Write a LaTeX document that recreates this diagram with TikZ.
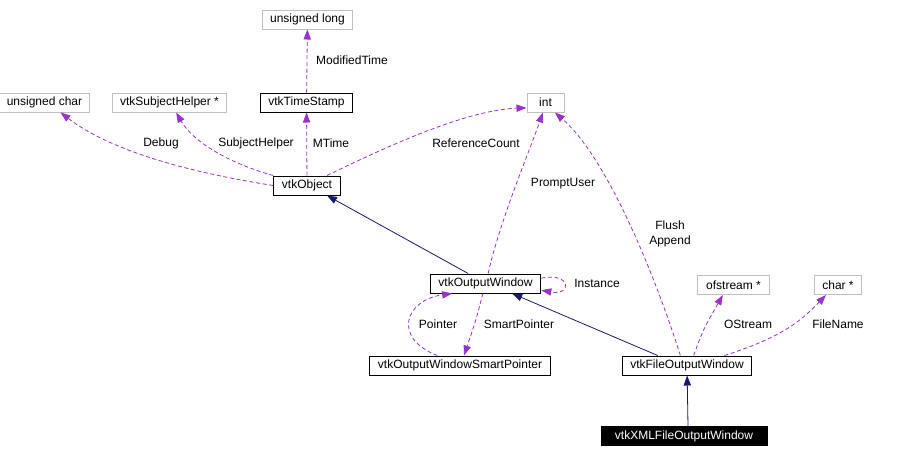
\documentclass[tikz,border=0pt]{standalone}
\usepackage{fontspec}
\setmainfont{Liberation Sans}
\definecolor{usepurple}{RGB}{153,50,204}
\definecolor{inhnavy}{RGB}{25,25,112}
\definecolor{boxgray}{RGB}{191,191,191}
\usetikzlibrary{arrows.meta, positioning}

\begin{document}
\begin{tikzpicture}[
    x=0.75pt, y=-0.75pt,
    font=\fontsize{9}{10}\selectfont,
    cls/.style={draw=black, fill=white, line width=0.75pt, inner xsep=6.2pt,
        inner ysep=0pt, minimum height=14.25pt},
    typ/.style={cls, draw=boxgray, inner xsep=5.5pt},
    sel/.style={cls, fill=black, text=white},
    inh/.style={-{Triangle[length=7.5pt,width=5.5pt]}, inhnavy, line width=0.6pt},
    use/.style={-{Triangle[length=7.5pt,width=5.5pt]}, usepurple, line width=0.6pt,
        dash pattern=on 3pt off 2pt},
    lbl/.style={inner sep=0pt}
  ]
  \useasboundingbox (0,0) rectangle (904,458);

  % nodes
  \node[typ] (ulong) at (307.5,19.5) {unsigned long};
  \node[typ] (uchar) at (44.5,102.5) {unsigned char};
  \node[typ] (helper) at (169.5,102.5) {vtkSubjectHelper *};
  \node[cls] (tstamp) at (306.5,102.5) {vtkTimeStamp};
  \node[typ, minimum width=27.75pt] (int) at (545.5,102.5) {int};
  \node[cls, minimum width=48pt] (obj) at (307,185.5) {vtkObject};
  \node[cls] (outwin) at (485.5,283.5) {vtkOutputWindow};
  \node[typ, inner xsep=6.5pt] (ofs) at (733.5,285) {ofstream *};
  \node[typ] (charp) at (838,285) {char *};
  \node[cls] (smartptr) at (460,365.5) {vtkOutputWindowSmartPointer};
  \node[cls] (fileout) at (687,365.5) {vtkFileOutputWindow};
  \node[sel, minimum width=124.5pt] (xmlout) at (684,436) {vtkXMLFileOutputWindow};

  % usage edges
  \draw[use] (tstamp) -- (ulong);
  \draw[use] (obj) -- (tstamp);
  \draw[use] (obj.west) .. controls (200,174) and (115,154) .. ([xshift=12pt]uchar.south);
  \draw[use] (obj.north west) .. controls (225,162) and (192,140) .. ([xshift=5pt]helper.south);
  \draw[use] ([xshift=15pt]obj.north) .. controls (400,140) and (470,110) .. ([yshift=-4pt]int.west);
  \draw[use] ([xshift=2pt]outwin.north) .. controls (500,220) and (530,150) .. ([xshift=-2pt]int.south);
  \draw[use] ([xshift=-5pt]fileout.north) .. controls (660,290) and (610,160) .. ([xshift=7pt]int.south);
  \draw[use] ([yshift=4pt]outwin.east) .. controls (572,272) and (572,296) .. ([yshift=-5pt]outwin.east);
  \draw[use] ([xshift=-2pt]outwin.south) .. controls (476,320) .. ([xshift=3pt]smartptr.north);
  \draw[use] ([xshift=-17pt]smartptr.north) .. controls (392,338) and (405,300) .. ([xshift=-25pt]outwin.south);
  \draw[use] ([xshift=5pt]fileout.north) .. controls (703,330) .. ([xshift=-8pt]ofs.south);
  \draw[use] ([xshift=28pt]fileout.north) .. controls (780,338) and (800,322) .. ([xshift=-9pt]charp.south);

  % inheritance edges
  \draw[inh] ([xshift=-13pt]outwin.north) -- ([xshift=15pt]obj.south);
  \draw[inh] ([xshift=-22pt]fileout.north) -- ([xshift=20pt]outwin.south);
  \draw[inh] ([xshift=3pt]xmlout.north) -- (fileout);

  % labels
  \node[lbl] (lmod) at (352,60) {ModifiedTime};
  \node[lbl] (lmtime) at (331,143) {MTime};
  \node[lbl] (ldebug) at (161,143) {Debug};
  \node[lbl] (lhelper) at (256,143) {SubjectHelper};
  \node[lbl] (lref) at (476,143) {ReferenceCount};
  \node[lbl] (lprompt) at (563,184) {PromptUser};
  \node[lbl] (lflush) at (670,225) {Flush};
  \node[lbl] (lappend) at (670,241) {Append};
  \node[lbl] (linst) at (597,283) {Instance};
  \node[lbl] (lptr) at (438,324) {Pointer};
  \node[lbl] (lsmart) at (519,324) {SmartPointer};
  \node[lbl] (lostream) at (748,324) {OStream};
  \node[lbl] (lfile) at (838,324) {FileName};
\end{tikzpicture}
\end{document}
